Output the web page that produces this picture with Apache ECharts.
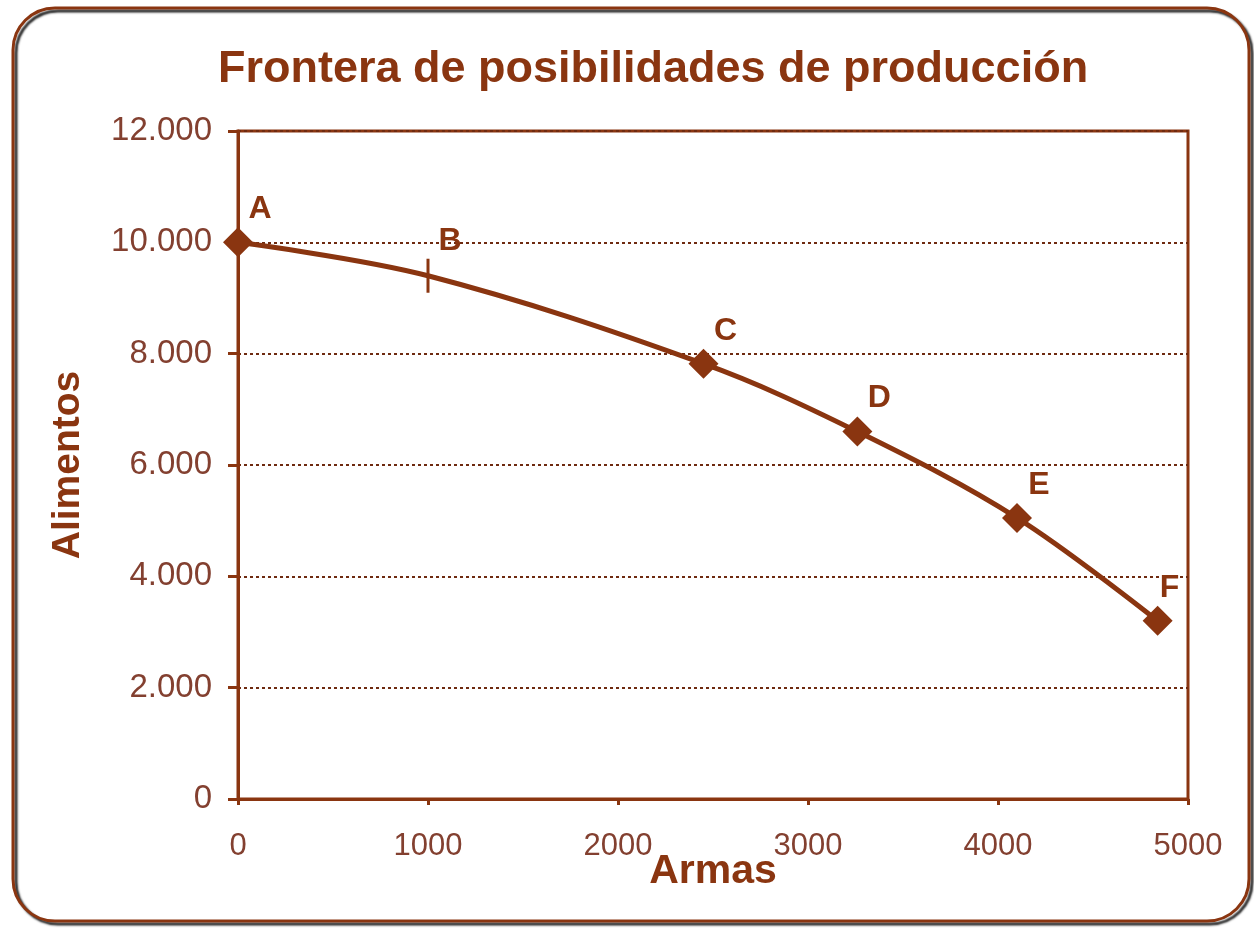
<!DOCTYPE html>
<html>
<head>
<meta charset="utf-8">
<title>Frontera de posibilidades de producción</title>
<script src="https://cdn.jsdelivr.net/npm/echarts@6/dist/echarts.min.js"></script>
<style>
  html, body { margin: 0; padding: 0; background: #ffffff; }
  #chart { width: 1254px; height: 928px; }
</style>
</head>
<body>
<div id="chart"></div>
<script>
// Data
const puntos = ["A", "B", "C", "D", "E", "F"];
const armas = [0, 1000, 2450, 3260, 4100, 4840];
const alimentos = [10000, 9400, 7820, 6600, 5050, 3200];

const brown = "#8a3510";
const labelBrown = "#834030";
const font = '"Liberation Sans", Arial, sans-serif';

const chart = echarts.init(document.getElementById("chart"));

// thousands with dot separator
function fmtMiles(v) {
  return String(v).replace(/\B(?=(\d{3})+(?!\d))/g, ".");
}

const seriesData = puntos.map((p, i) => {
  const item = { name: p, value: [armas[i], alimentos[i]] };
  if (p === "B") {
    // B is shown as a small vertical tick on the curve
    item.symbol = "rect";
    item.symbolSize = [3, 34];
  }
  if (p === "F") {
    item.label = { offset: [12, -2] };
  }
  return item;
});

const option = {
  animation: false,
  textStyle: { fontFamily: font },
  graphic: [
    {
      type: "rect",
      shape: { x: 13, y: 8, width: 1236, height: 913, r: 42 },
      style: {
        fill: "none",
        stroke: brown,
        lineWidth: 3,
        shadowColor: "rgba(0,0,0,0.85)",
        shadowOffsetX: 3,
        shadowOffsetY: 3,
        shadowBlur: 2,
      },
      z: -1,
    },
  ],
  title: {
    text: "Frontera de posibilidades de producción",
    left: 213,
    top: 42,
    textStyle: {
      fontFamily: font,
      fontSize: 45,
      fontWeight: "bold",
      color: brown,
    },
  },
  grid: {
    left: 238,
    right: 66,
    top: 131,
    bottom: 129,
    show: true,
    borderColor: brown,
    borderWidth: 3,
  },
  xAxis: {
    type: "value",
    min: 0,
    max: 5000,
    interval: 1000,
    name: "Armas",
    nameLocation: "middle",
    nameGap: 52,
    nameMoveOverlap: false,
    nameTextStyle: {
      fontFamily: font,
      fontSize: 41,
      fontWeight: "bold",
      color: brown,
    },
    axisLine: { show: true, lineStyle: { color: brown, width: 3 } },
    axisTick: { show: true, length: 6, lineStyle: { color: brown, width: 3 } },
    axisLabel: {
      fontSize: 31,
      color: labelBrown,
      margin: 32,
      formatter: (v) => String(v),
    },
    splitLine: { show: false },
  },
  yAxis: {
    type: "value",
    min: 0,
    max: 12000,
    interval: 2000,
    name: "Alimentos",
    nameLocation: "middle",
    nameGap: 150,
    nameMoveOverlap: false,
    nameTextStyle: {
      fontFamily: font,
      fontSize: 39,
      fontWeight: "bold",
      color: brown,
    },
    axisLine: { show: true, lineStyle: { color: brown, width: 3 } },
    axisTick: { show: true, length: 10, lineStyle: { color: brown, width: 3 } },
    axisLabel: {
      fontSize: 33,
      color: labelBrown,
      margin: 26,
      formatter: fmtMiles,
    },
    splitLine: {
      show: true,
      lineStyle: { color: "#6e2a10", width: 2, type: [3, 3] },
    },
  },
  series: [
    {
      type: "line",
      data: seriesData,
      smooth: 0.35,
      symbol: "diamond",
      symbolSize: 30,
      lineStyle: { color: brown, width: 5 },
      itemStyle: { color: brown },
      label: {
        show: true,
        position: "top",
        distance: 0,
        offset: [22, -2],
        formatter: "{b}",
        fontFamily: font,
        fontSize: 32,
        fontWeight: "bold",
        color: brown,
      },
      z: 3,
    },
  ],
};

chart.setOption(option);
</script>
</body>
</html>
